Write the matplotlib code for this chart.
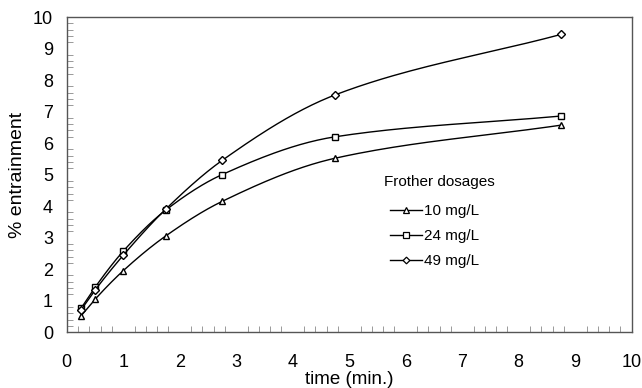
import numpy as np
import matplotlib.pyplot as plt
from matplotlib.ticker import MultipleLocator

plt.rcParams['font.family'] = ['Liberation Sans', 'DejaVu Sans']

# time (min.)
time_min = [0.25, 0.5, 1.0, 1.75, 2.75, 4.75, 8.75]
# % entrainment per frother dosage
ent_10 = [0.51, 1.04, 1.95, 3.05, 4.15, 5.52, 6.57]
ent_24 = [0.75, 1.42, 2.57, 3.87, 5.00, 6.20, 6.86]
ent_49 = [0.70, 1.33, 2.44, 3.90, 5.45, 7.53, 9.45]
labels = ['10 mg/L', '24 mg/L', '49 mg/L']
markers = ['^', 's', 'D']


def smooth(x, y, n=40):
    # monotone cubic (pchip-like) curve through the points
    x = np.asarray(x, float)
    y = np.asarray(y, float)
    h = np.diff(x)
    d = np.diff(y) / h
    m = np.zeros_like(y)
    for i in range(1, len(x) - 1):
        if d[i - 1] * d[i] > 0:
            w1 = 2 * h[i] + h[i - 1]
            w2 = h[i] + 2 * h[i - 1]
            m[i] = (w1 + w2) / (w1 / d[i - 1] + w2 / d[i])
    m[0] = d[0]
    m[-1] = d[-1]
    xs, ys = [], []
    t = np.linspace(0, 1, n)
    for i in range(len(x) - 1):
        h00 = 2 * t ** 3 - 3 * t ** 2 + 1
        h10 = t ** 3 - 2 * t ** 2 + t
        h01 = -2 * t ** 3 + 3 * t ** 2
        h11 = t ** 3 - t ** 2
        xs.extend(x[i] + t * h[i])
        ys.extend(h00 * y[i] + h10 * h[i] * m[i] + h01 * y[i + 1] + h11 * h[i] * m[i + 1])
    return xs, ys


fig = plt.figure(figsize=(6.42, 3.88), dpi=100)
ax = fig.add_axes([0.104, 0.144, 0.88, 0.812])

for y, lab, m in zip([ent_10, ent_24, ent_49], labels, markers):
    sx, sy = smooth(time_min, y)
    ax.plot(sx, sy, color='black', lw=1)
    ms = 4.2 if m == 'D' else 5
    ax.plot(time_min, y, ls='none', marker=m, ms=ms,
            mfc='white', mec='black', mew=1)
    ax.plot([], [], color='black', lw=1, marker=m, ms=ms - 0.8,
            mfc='white', mec='black', mew=0.9, label=lab)

ax.set_xlim(0, 10)
ax.set_ylim(0, 10)
ax.xaxis.set_major_locator(MultipleLocator(1))
ax.yaxis.set_major_locator(MultipleLocator(1))
ax.xaxis.set_minor_locator(MultipleLocator(0.2))
ax.yaxis.set_minor_locator(MultipleLocator(0.2))
ax.tick_params(which='both', direction='in', color='#999999')
ax.tick_params(which='major', length=0, labelsize=13)
ax.tick_params(axis='x', which='major', pad=16)
ax.tick_params(axis='y', which='major', pad=10)
ax.tick_params(which='minor', length=4, width=0.7)
for s in ax.spines.values():
    s.set_color('#555555')
    s.set_linewidth(1)

ax.set_xlabel('time (min.)', fontsize=13.5, labelpad=0)
ax.set_ylabel('% entrainment', fontsize=14, labelpad=5)

ax.text(0.562, 0.475, 'Frother dosages', transform=ax.transAxes,
        fontsize=11, va='center', ha='left')
ax.legend(loc='upper left', bbox_to_anchor=(0.562, 0.425), frameon=False,
          fontsize=11, handlelength=2.1, handletextpad=0.1, labelspacing=0.72,
          borderaxespad=0)

fig.savefig('out.png', dpi=100)
